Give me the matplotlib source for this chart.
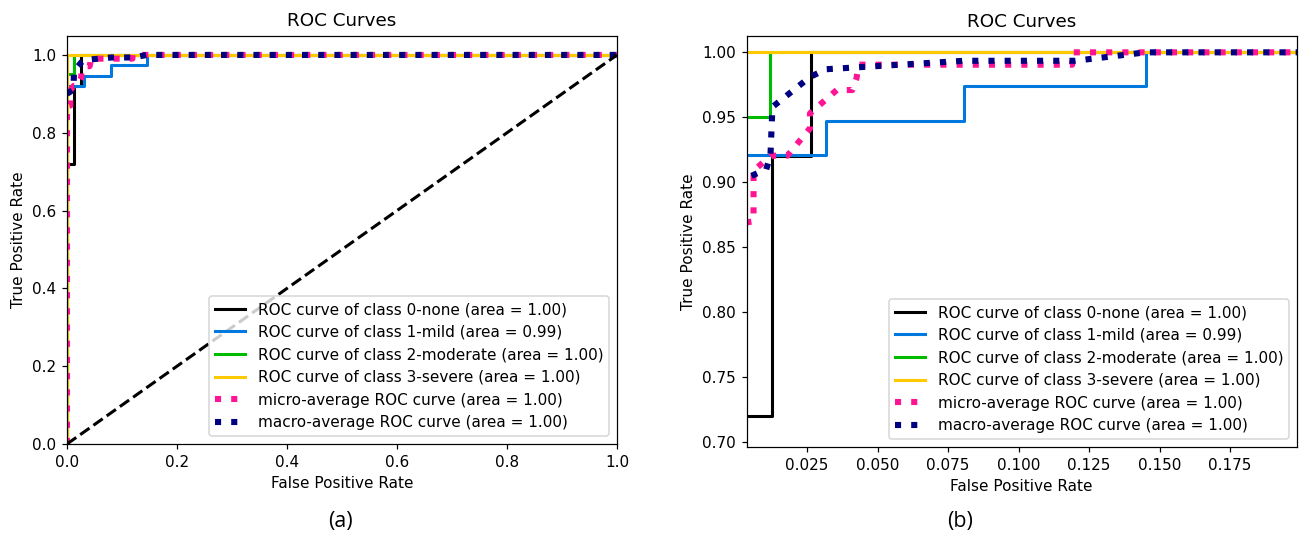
import numpy as np
import matplotlib
matplotlib.use("Agg")
import matplotlib.pyplot as plt

# ---- data ----
class_names = ["0-none", "1-mild", "2-moderate", "3-severe"]
class_areas = ["1.00", "0.99", "1.00", "1.00"]

fpr_c0 = [0.0, 0.0, 0.0127, 0.0127, 0.0263, 0.0263, 1.0]
tpr_c0 = [0.0, 0.72, 0.72, 0.92, 0.92, 1.0, 1.0]

fpr_c1 = [0.0, 0.0, 0.0317, 0.0317, 0.0806, 0.0806, 0.145, 0.145, 1.0]
tpr_c1 = [0.0, 0.921, 0.921, 0.947, 0.947, 0.974, 0.974, 1.0, 1.0]

fpr_c2 = [0.0, 0.0, 0.012, 0.012, 1.0]
tpr_c2 = [0.0, 0.95, 0.95, 1.0, 1.0]

fpr_c3 = [0.0, 0.0, 1.0]
tpr_c3 = [0.0, 1.0, 1.0]

fpr_micro = [0.0, 0.0, 0.006, 0.006, 0.0122, 0.018, 0.026, 0.026, 0.0355,
             0.041, 0.0425, 0.0433, 0.119, 0.119, 1.0]
tpr_micro = [0.0, 0.868, 0.870, 0.909, 0.9205, 0.9205, 0.9415, 0.953, 0.971,
             0.971, 0.980, 0.9905, 0.9905, 1.0, 1.0]
micro_area = "1.00"

fpr_macro = [0.0, 0.0105, 0.012, 0.0127, 0.026, 0.0317, 0.0806, 0.12, 0.145, 1.0]
tpr_macro = [0.90, 0.910, 0.921, 0.958, 0.981, 0.987, 0.9935, 0.9935, 1.0, 1.0]
macro_area = "1.00"

fprs = [fpr_c0, fpr_c1, fpr_c2, fpr_c3]
tprs = [tpr_c0, tpr_c1, tpr_c2, tpr_c3]

captions = ["(a)", "(b)"]

plt.rcParams['font.family'] = ['DejaVu Sans']
W, H = 1300, 538
dpi = 110
fig = plt.figure(figsize=(W / dpi, H / dpi), dpi=dpi)

def px_axes(l, t, r, b):
    return fig.add_axes([l / W, 1 - b / H, (r - l) / W, (b - t) / H])

ax1 = px_axes(67, 35.5, 617, 444)
ax2 = px_axes(746.5, 35.7, 1297, 447)

cmap = plt.cm.nipy_spectral
for ax in (ax1, ax2):
    for i in range(4):
        ax.plot(fprs[i], tprs[i], lw=2, color=cmap(float(i) / 4),
                label='ROC curve of class {0} (area = {1})'.format(class_names[i], class_areas[i]))
    ax.plot(fpr_micro, tpr_micro, color='deeppink', linestyle=':', linewidth=4,
            label='micro-average ROC curve (area = {0})'.format(micro_area))
    ax.plot(fpr_macro, tpr_macro, color='navy', linestyle=':', linewidth=4,
            label='macro-average ROC curve (area = {0})'.format(macro_area))
    ax.plot([0, 1], [0, 1], 'k--', lw=2)
    ax.set_title('ROC Curves')
    ax.set_xlabel('False Positive Rate')
    ax.set_ylabel('True Positive Rate')
    ax.legend(loc='lower right')

ax1.set_xlim(0.0, 1.0)
ax1.set_ylim(0.0, 1.05)
ax2.set_xlim(0.0035, 0.1987)
ax2.set_ylim(0.6964, 1.0128)
ax2.set_xticks([0.025, 0.05, 0.075, 0.1, 0.125, 0.15, 0.175])
ax2.set_yticks([0.70, 0.75, 0.80, 0.85, 0.90, 0.95, 1.00])
ax2.xaxis.set_major_formatter(matplotlib.ticker.FormatStrFormatter('%.3f'))
ax2.yaxis.set_major_formatter(matplotlib.ticker.FormatStrFormatter('%.2f'))

fig.text(340 / W, 1 - 522 / H, captions[0], ha='center', va='center', fontsize=14,
         family=['Open Sans', 'DejaVu Sans'])
fig.text(960 / W, 1 - 522 / H, captions[1], ha='center', va='center', fontsize=14,
         family=['Open Sans', 'DejaVu Sans'])

fig.savefig('out.png', dpi=dpi)
